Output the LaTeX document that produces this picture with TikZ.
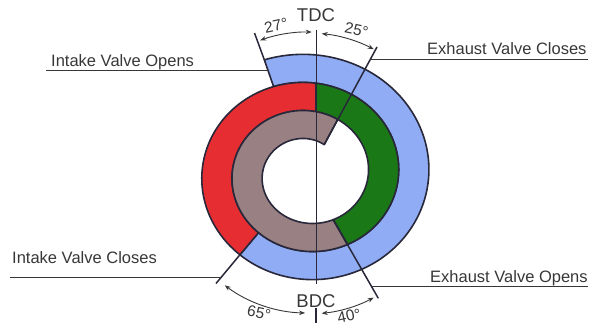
\documentclass[tikz,border=0pt]{standalone}
\usepackage{fontspec}
\setmainfont{Liberation Sans}
\usetikzlibrary{arrows.meta,calc}
\definecolor{cblue}{RGB}{143,172,245}
\definecolor{cred}{RGB}{230,45,50}
\definecolor{cgreen}{RGB}{26,120,22}
\definecolor{cmauve}{RGB}{152,128,131}
\definecolor{cline}{RGB}{40,40,58}
\definecolor{ctext}{RGB}{55,55,55}
\def\SX#1{307.8+(128.6-0.084*(#1))*sin(#1)}
\def\SY#1{174-0.93*(128.6-0.084*(#1))*cos(#1)}
\tikzset{
 strip/.style={draw=cline, line width=1.6pt, line join=round},
 pointer/.style={draw=cline, line width=1.5pt},
 leader/.style={draw=ctext, line width=1pt},
 axisline/.style={draw=cline, line width=0.9pt},
 dimarc/.style={draw=ctext, line width=0.9pt, {Stealth[length=6pt,width=4.5pt]}-{Stealth[length=6pt,width=4.5pt]}},
 lbl/.style={text=ctext, font=\fontsize{16.5}{18}\selectfont, inner sep=0pt, anchor=base west},
 deg/.style={text=ctext, font=\fontsize{15.5}{17}\selectfont, inner sep=0pt},
 dc/.style={text=ctext, font=\fontsize{18.5}{21}\selectfont, inner sep=0pt, anchor=base},
}
\begin{document}
\begin{tikzpicture}[x=1pt,y=-1pt]
\useasboundingbox (0,0) rectangle (591,326);
% spiral points
\coordinate (ctr) at (308,174);
\coordinate (bO1) at ({\SX{-19.5}},{\SY{-19.5}});
\coordinate (bI1) at ({\SX{340}},{\SY{340}});
\coordinate (rO1) at ({\SX{218}},{\SY{218}});
\coordinate (rI1) at ({\SX{578}},{\SY{578}});
\coordinate (gO1) at ({\SX{512.4}},{\SY{512.4}});
\coordinate (gI1) at ({\SX{872.7}},{\SY{872.7}});
\coordinate (mO2) at ({\SX{747}},{\SY{747}});
\coordinate (mI2) at ({\SX{1107.5}},{\SY{1107.5}});
% strips
\path[strip, fill=cblue] plot[domain=-19.5:218, samples=90] ({\SX{\x}},{\SY{\x}})
  -- plot[domain=578:340, samples=90] ({\SX{\x}},{\SY{\x}}) -- cycle;
\path[strip, fill=cred] plot[domain=218:364.8, samples=60] ({\SX{\x}},{\SY{\x}})
  -- plot[domain=726.9:578, samples=60] ({\SX{\x}},{\SY{\x}}) -- cycle;
\path[strip, fill=cgreen] plot[domain=364.8:512.4, samples=60] ({\SX{\x}},{\SY{\x}})
  -- plot[domain=872.7:726.9, samples=60] ({\SX{\x}},{\SY{\x}}) -- cycle;
\path[strip, fill=cmauve] plot[domain=512.4:747, samples=90] ({\SX{\x}},{\SY{\x}})
  -- plot[domain=1107.5:872.7, samples=90] ({\SX{\x}},{\SY{\x}}) -- cycle;
% TDC / BDC axis
\coordinate (tdcTop) at (316,30);
\coordinate (tdcBot) at (316,284);
\draw[axisline] (tdcTop) -- (tdcBot);
\coordinate (tickTop) at (316,308);
\coordinate (tickBot) at (316,323);
\draw[cline, line width=1.6pt] (tickTop) -- (tickBot);
% pointers
\coordinate (ivoTop) at (254.5,33);
\draw[pointer] (ivoTop) -- (bO1);
\coordinate (evcTop) at (377,47);
\draw[pointer] (evcTop) -- (mI2);
\coordinate (ivcBot) at (216,283.5);
\draw[pointer] (ivcBot) -- (rO1);
\coordinate (evoBot) at (378.3,298.3);
\draw[pointer] (gI1) -- (evoBot);
% leaders
\coordinate (l1a) at (46,71);   \coordinate (l1b) at (268.2,71);
\coordinate (l2a) at (370,60);  \coordinate (l2b) at (588,60);
\coordinate (l3a) at (10,277.5);\coordinate (l3b) at (221,277.5);
\coordinate (l4a) at (371.6,286.7); \coordinate (l4b) at (588,286.7);
\draw[leader] (l1a) -- (l1b);
\draw[leader] (l2a) -- (l2b);
\draw[leader] (l3a) -- (l3b);
\draw[leader] (l4a) -- (l4b);
% labels
\node[lbl] (tIVO) at (51,66.7) {Intake Valve Opens};
\node[lbl] (tEVC) at (427,55) {Exhaust Valve Closes};
\node[lbl] (tIVC) at (12,263.3) {Intake Valve Closes};
\node[lbl] (tEVO) at (430,282.3) {Exhaust Valve Opens};
\node[dc] (tTDC) at (316,22) {TDC};
\node[dc] (tBDC) at (316,307) {BDC};
% angle arcs
\path (ctr) ++(-109.7:142) coordinate (a27s);
\draw[dimarc] (a27s) arc[start angle=-109.7, end angle=-88.5, radius=142];
\path (ctr) ++(-84.4:141) coordinate (a25s);
\draw[dimarc] (a25s) arc[start angle=-84.4, end angle=-62.2, radius=141];
\path (ctr) ++(126.8:139) coordinate (a65s);
\draw[dimarc] (a65s) arc[start angle=126.8, end angle=91.2, radius=139];
\path (ctr) ++(84.4:140) coordinate (a40s);
\draw[dimarc] (a40s) arc[start angle=84.4, end angle=62, radius=140];
\node[deg, rotate=12] (d27) at (276,25.5) {27°};
\node[deg, rotate=-12] (d25) at (356.5,30) {25°};
\node[deg, rotate=-12] (d65) at (259,313) {65°};
\node[deg, rotate=12] (d40) at (349,316) {40°};
\end{tikzpicture}
\end{document}
